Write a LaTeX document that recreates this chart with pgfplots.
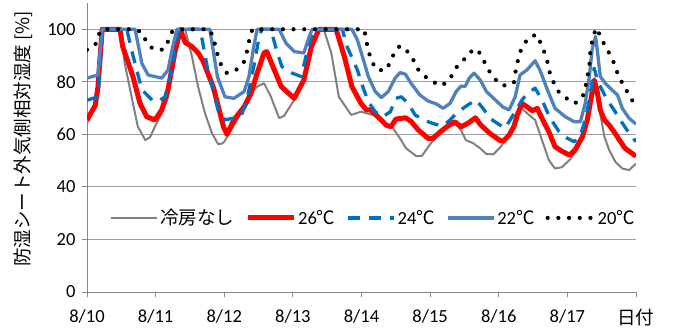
\documentclass[border=0pt]{standalone}
\usepackage{fontspec}
\setmainfont{Carlito}
\newfontfamily\cjk{Noto Sans CJK JP}
\usepackage{pgfplots}
\pgfplotsset{compat=1.18}
\definecolor{cgray}{RGB}{128,128,128}
\definecolor{cred}{RGB}{255,0,0}
\definecolor{cdash}{RGB}{0,112,192}
\definecolor{cblue}{RGB}{79,129,189}
\definecolor{cgrid}{RGB}{160,160,160}
\definecolor{caxis}{RGB}{134,134,134}
\begin{document}
\begin{tikzpicture}
\useasboundingbox (0,0) rectangle (676bp,331bp);
\begin{axis}[
  at={(87bp,39bp)}, anchor=south west,
  scale only axis, width=549bp, height=289bp,
  xmin=0, xmax=8, ymin=0, ymax=110,
  axis x line*=bottom, axis y line*=left,
  axis line style={caxis, line width=0.9bp},
  xtick={0,1,...,8},
  xticklabels={8/10,8/11,8/12,8/13,8/14,8/15,8/16,8/17,{\cjk 日付}},
  ytick={0,20,...,100},
  ymajorgrids, grid style={cgrid, line width=0.9bp},
  tick align=outside, major tick length=5bp,
  tick style={caxis, line width=0.9bp},
  /pgf/number format/assume math mode=true,
  ticklabel style={font=\fontsize{18.5bp}{22bp}\selectfont},
  yticklabel style={xshift=-3bp},
  xticklabel style={yshift=-9bp},
  legend columns=5,
  legend style={at={(axis cs:0.335,28.2)}, anchor=west, draw=none, fill=none,
    inner sep=0pt, font=\fontsize{18.5bp}{22bp}\selectfont,
    /tikz/every even column/.append style={column sep=9bp},
    nodes={inner xsep=2bp}},
  legend image code/.code={\draw[#1] (0bp,0bp) -- (46bp,0bp);},
  every axis plot/.append style={line join=round},
]
\addplot[cgray, line width=2bp] coordinates {
(0,64.3)(0.12,71)(0.16,78)(0.22,100)(0.48,100)(0.50,97)(0.55,87)(0.66,73)(0.74,63)(0.85,57.8)(0.92,59)(0.99,63)(1.09,68)(1.18,74)(1.25,88)(1.31,100)(1.43,100)(1.53,89.6)(1.62,78)(1.72,68)(1.82,60.5)(1.91,56.3)(1.97,56.5)(2.00,57.2)(2.19,65.5)(2.39,75.7)(2.48,78.2)(2.58,79.5)(2.68,74.3)(2.80,66.2)(2.87,67)(3.02,73.1)(3.16,82)(3.27,93.4)(3.38,100)(3.45,100)(3.56,91)(3.67,74.3)(3.85,67.4)(3.99,68.6)(4.08,68)(4.17,67.4)(4.31,64.8)(4.46,62.3)(4.56,58.5)(4.65,54.7)(4.80,51.7)(4.88,51.8)(5.01,56.6)(5.15,60.4)(5.29,63.2)(5.38,63.8)(5.45,61.6)(5.52,57.8)(5.63,56.6)(5.73,54.7)(5.82,52.5)(5.92,52.4)(6.02,55)(6.09,57.5)(6.20,62.3)(6.31,70.5)(6.44,67.4)(6.53,65.5)(6.63,57.8)(6.73,50.2)(6.82,47)(6.92,47.5)(7.03,50.2)(7.14,54)(7.26,62.9)(7.33,73.1)(7.39,80)(7.46,70.5)(7.54,59.1)(7.61,54)(7.70,49.5)(7.80,47)(7.90,46.4)(8.00,48.9)
};
\addlegendentry{\cjk 冷房なし}
\addplot[cred, line width=5bp] coordinates {
(0,65.5)(0.12,71)(0.16,78)(0.22,100)(0.48,100)(0.52,93.4)(0.67,82)(0.77,72)(0.87,66.7)(0.99,65.5)(1.09,69.3)(1.18,77)(1.28,91)(1.36,100)(1.43,95)(1.53,93.4)(1.62,91)(1.69,88)(1.84,78)(1.99,62.8)(2.04,60)(2.14,65.5)(2.29,70.5)(2.39,75.6)(2.48,83.3)(2.58,91)(2.62,91.5)(2.73,84.5)(2.83,78.2)(3.02,73.7)(3.16,80.7)(3.27,93.4)(3.38,100)(3.63,100)(3.75,89.6)(3.86,78.2)(3.99,71.9)(4.07,69.3)(4.13,69.3)(4.24,66.7)(4.36,63.5)(4.43,62.9)(4.50,65.8)(4.64,66.3)(4.72,65)(4.83,61.6)(4.97,58.5)(5.04,58.5)(5.15,61)(5.26,63.2)(5.36,64.8)(5.45,62.9)(5.55,64.2)(5.66,66.3)(5.74,63.5)(5.87,60.4)(6.02,57.6)(6.07,57.5)(6.15,59.7)(6.22,62.9)(6.27,67.4)(6.34,71.8)(6.41,70.5)(6.49,69)(6.56,69.9)(6.63,66.1)(6.73,61)(6.82,55.3)(6.92,53.6)(7.03,52.1)(7.11,54)(7.22,59.1)(7.29,65.5)(7.35,74.3)(7.39,80.7)(7.43,76.9)(7.48,69.3)(7.54,65.5)(7.61,63.5)(7.68,61)(7.76,57.8)(7.84,54.7)(7.94,52.8)(8.00,51.7)
};
\addlegendentry{26{\cjk ℃}}
\addplot[cdash, line width=3.3bp, dash pattern=on 12bp off 9bp] coordinates {
(0,73)(0.16,74.3)(0.23,100)(0.58,100)(0.66,91)(0.80,77)(0.95,73)(1.03,72.5)(1.14,74.3)(1.25,86)(1.33,100)(1.65,100)(1.76,84.5)(1.91,69.3)(2.01,65.5)(2.10,66)(2.24,66.5)(2.33,73)(2.43,85.8)(2.51,97.3)(2.55,100)(2.68,100)(2.76,92.2)(2.84,85.8)(2.99,83.3)(3.12,82)(3.19,89.6)(3.27,97.3)(3.31,100)(3.72,100)(3.79,93.4)(3.94,84.5)(4.02,78)(4.10,72.4)(4.20,68.6)(4.31,66.7)(4.42,68.6)(4.50,73.7)(4.58,74.3)(4.68,71.8)(4.78,67.4)(4.93,65.2)(5.07,63.9)(5.19,63.2)(5.29,65.5)(5.36,67.4)(5.48,69.9)(5.55,71.2)(5.67,73.1)(5.77,69.9)(5.87,66.1)(6.02,63.5)(6.09,62.3)(6.24,68.6)(6.34,73.1)(6.41,75.4)(6.53,77.6)(6.63,73.1)(6.75,66.1)(6.88,61)(7.00,58.5)(7.10,57.2)(7.19,59.7)(7.26,65.5)(7.32,73.1)(7.39,85.2)(7.43,81.4)(7.48,78.2)(7.58,73.1)(7.68,69.3)(7.77,65.5)(7.87,61.6)(8.00,57.2)
};
\addlegendentry{24{\cjk ℃}}
\addplot[cblue, line width=3.3bp] coordinates {
(0,81.4)(0.16,82.6)(0.22,100)(0.70,100)(0.80,87)(0.89,82.6)(1.09,81.4)(1.18,84.5)(1.25,93.4)(1.31,100)(1.79,100)(1.90,82)(2.01,74.3)(2.14,73.7)(2.29,76.3)(2.36,82)(2.43,93.4)(2.48,100)(2.80,100)(2.90,94.7)(3.02,91.5)(3.16,91)(3.24,97.3)(3.28,100)(3.86,100)(3.94,96)(4.02,89)(4.10,82)(4.20,76.3)(4.29,74)(4.39,76.3)(4.49,81.4)(4.56,83.5)(4.64,82.9)(4.72,79.5)(4.85,75)(4.97,72.7)(5.09,71.6)(5.19,69.9)(5.29,71.8)(5.38,76.3)(5.45,78.4)(5.51,78.2)(5.57,81.4)(5.64,83.3)(5.73,80.7)(5.82,76.3)(5.95,73.1)(6.06,70.4)(6.15,69.3)(6.24,74.3)(6.31,82.6)(6.41,84.5)(6.53,88)(6.60,84.5)(6.71,76.9)(6.82,69.9)(6.97,66.7)(7.10,64.8)(7.19,64.8)(7.26,71.8)(7.32,82)(7.36,92.2)(7.41,97.3)(7.43,93.4)(7.48,82)(7.55,79.5)(7.65,76.9)(7.73,75)(7.80,69.9)(7.90,66.1)(8.00,63.9)
};
\addlegendentry{22{\cjk ℃}}
\addplot[black, line width=4.2bp, line cap=round, dash pattern=on 0bp off 10.7bp] coordinates {
(0,92.2)(0.12,94)(0.16,97.5)(0.22,100)(0.70,100)(0.80,98.8)(0.87,95)(0.96,92.5)(1.11,92.2)(1.18,95.3)(1.24,99)(1.33,100)(1.79,100)(1.84,96.7)(1.91,89.6)(1.97,85.3)(2.04,83.3)(2.19,84.8)(2.29,87.7)(2.33,91.5)(2.36,95.3)(2.41,100)(4.04,100)(4.07,95.7)(4.10,91.9)(4.14,88.4)(4.21,84.8)(4.34,84.2)(4.42,87.3)(4.48,91.3)(4.56,93.7)(4.65,92.2)(4.75,88.7)(4.80,85.4)(4.91,82.3)(5.04,80)(5.17,78.5)(5.29,81)(5.35,84.3)(5.44,87.5)(5.54,89.4)(5.63,92.6)(5.73,90.9)(5.80,87.1)(5.87,83.7)(5.96,80.7)(6.06,78.5)(6.22,79.5)(6.24,83.3)(6.27,87.1)(6.31,91.3)(6.37,94.5)(6.46,97.3)(6.56,97.9)(6.62,94.1)(6.68,90.3)(6.72,86.5)(6.75,82.6)(6.81,79.2)(6.88,75.9)(7.00,73.5)(7.11,71.8)(7.22,74.1)(7.26,77.6)(7.32,85.8)(7.33,90.3)(7.35,94.1)(7.38,97.5)(7.42,100.5)(7.48,97.5)(7.54,94.1)(7.61,90.9)(7.68,87.1)(7.73,83.3)(7.80,79.5)(7.87,76.3)(7.94,73.1)(8.00,71)
};
\addlegendentry{20{\cjk ℃}}
\end{axis}
\node[rotate=90, font=\cjk\fontsize{18.5bp}{22bp}\selectfont, inner sep=0pt] at (23bp,192bp) {防湿シート外気側相対湿度 [\%]};
\end{tikzpicture}
\end{document}
